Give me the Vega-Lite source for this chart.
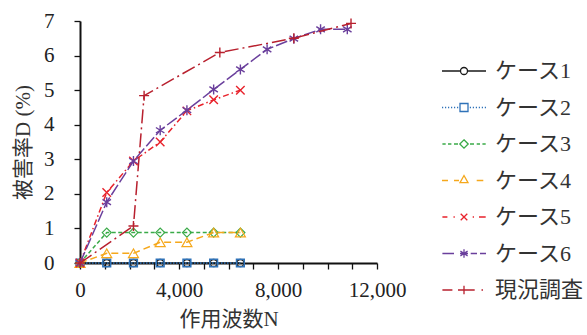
{
  "$schema": "https://vega.github.io/schema/vega-lite/v6.json",
  "autosize": {"type": "none"},
  "padding": {"left": 80, "top": 21, "right": 210, "bottom": 72},
  "width": 297,
  "height": 242,
  "background": "white",
  "data": {
    "values": [
      {"s": "ケース1", "x": 0, "y": 0}, {"s": "ケース1", "x": 1080, "y": 0}, {"s": "ケース1", "x": 2160, "y": 0}, {"s": "ケース1", "x": 3240, "y": 0}, {"s": "ケース1", "x": 4320, "y": 0}, {"s": "ケース1", "x": 5400, "y": 0}, {"s": "ケース1", "x": 6480, "y": 0},
      {"s": "ケース2", "x": 0, "y": 0}, {"s": "ケース2", "x": 1080, "y": 0}, {"s": "ケース2", "x": 2160, "y": 0}, {"s": "ケース2", "x": 3240, "y": 0}, {"s": "ケース2", "x": 4320, "y": 0}, {"s": "ケース2", "x": 5400, "y": 0}, {"s": "ケース2", "x": 6480, "y": 0},
      {"s": "ケース3", "x": 0, "y": 0}, {"s": "ケース3", "x": 1080, "y": 0.88}, {"s": "ケース3", "x": 2160, "y": 0.88}, {"s": "ケース3", "x": 3240, "y": 0.88}, {"s": "ケース3", "x": 4320, "y": 0.88}, {"s": "ケース3", "x": 5400, "y": 0.88}, {"s": "ケース3", "x": 6480, "y": 0.88},
      {"s": "ケース4", "x": 0, "y": 0}, {"s": "ケース4", "x": 1080, "y": 0.28}, {"s": "ケース4", "x": 2160, "y": 0.28}, {"s": "ケース4", "x": 3240, "y": 0.6}, {"s": "ケース4", "x": 4320, "y": 0.6}, {"s": "ケース4", "x": 5400, "y": 0.88}, {"s": "ケース4", "x": 6480, "y": 0.88},
      {"s": "ケース5", "x": 0, "y": 0}, {"s": "ケース5", "x": 1080, "y": 2.04}, {"s": "ケース5", "x": 2160, "y": 2.95}, {"s": "ケース5", "x": 3240, "y": 3.5}, {"s": "ケース5", "x": 4320, "y": 4.4}, {"s": "ケース5", "x": 5400, "y": 4.72}, {"s": "ケース5", "x": 6480, "y": 5.0},
      {"s": "ケース6", "x": 0, "y": 0}, {"s": "ケース6", "x": 1080, "y": 1.76}, {"s": "ケース6", "x": 2160, "y": 2.95}, {"s": "ケース6", "x": 3240, "y": 3.84}, {"s": "ケース6", "x": 4320, "y": 4.42}, {"s": "ケース6", "x": 5400, "y": 5.02}, {"s": "ケース6", "x": 6480, "y": 5.6}, {"s": "ケース6", "x": 7560, "y": 6.18}, {"s": "ケース6", "x": 8640, "y": 6.49}, {"s": "ケース6", "x": 9720, "y": 6.76}, {"s": "ケース6", "x": 10800, "y": 6.76},
      {"s": "現況調査", "x": 0, "y": 0}, {"s": "現況調査", "x": 2160, "y": 1.07}, {"s": "現況調査", "x": 2590, "y": 4.84}, {"s": "現況調査", "x": 5650, "y": 6.09}, {"s": "現況調査", "x": 8640, "y": 6.5}, {"s": "現況調査", "x": 10950, "y": 6.93}
    ]
  },
  "encoding": {
    "x": {
      "field": "x", "type": "quantitative",
      "scale": {"domain": [0, 12000], "nice": false, "zero": true},
      "axis": {
        "title": "作用波数N",
        "values": [0, 1000, 2000, 3000, 4000, 5000, 6000, 7000, 8000, 9000, 10000, 11000, 12000],
        "labelExpr": "datum.value % 4000 === 0 ? format(datum.value, ',') : ''",
        "labelFlush": false,
        "labelOverlap": false,
        "grid": false,
        "tickSize": 6,
        "labelPadding": 10,
        "titlePadding": 8,
        "encode": {"ticks": {"update": {"y2": {"value": -6}}}}
      }
    },
    "y": {
      "field": "y", "type": "quantitative",
      "scale": {"domain": [0, 7], "nice": false},
      "axis": {
        "title": "被害率D (%)",
        "values": [0, 1, 2, 3, 4, 5, 6, 7],
        "labelFlush": false,
        "grid": false,
        "tickSize": 6,
        "labelPadding": 20,
        "titlePadding": 10,
        "encode": {"ticks": {"update": {"x2": {"value": 6}}}}
      }
    }
  },
  "layer": [
    {
      "transform": [{"filter": "datum.s === 'ケース1'"}],
      "layer": [
        {"mark": {"type": "line", "strokeWidth": 1.5, "color": "#1a1a1a"}, "encoding": {}},
        {"mark": {"type": "point", "shape": "circle", "filled": false, "size": 49, "strokeWidth": 1.3, "color": "#1a1a1a", "opacity": 1}}
      ]
    },
    {
      "transform": [{"filter": "datum.s === 'ケース2'"}],
      "layer": [
        {"mark": {"type": "line", "strokeWidth": 1.5, "color": "#2f72b8", "strokeDash": [1.5, 1.5]}, "encoding": {}},
        {"mark": {"type": "point", "shape": "square", "filled": false, "size": 60, "strokeWidth": 1.5, "color": "#2f72b8", "opacity": 1}}
      ]
    },
    {
      "transform": [{"filter": "datum.s === 'ケース3'"}],
      "layer": [
        {"mark": {"type": "line", "strokeWidth": 1.5, "color": "#3aaa48", "strokeDash": [4, 2.5]}, "encoding": {}},
        {"mark": {"type": "point", "shape": "diamond", "filled": false, "size": 81, "strokeWidth": 1.2, "color": "#3aaa48", "opacity": 1}}
      ]
    },
    {
      "transform": [{"filter": "datum.s === 'ケース4'"}],
      "layer": [
        {"mark": {"type": "line", "strokeWidth": 1.5, "color": "#f5a81c", "strokeDash": [7, 4]}, "encoding": {}},
        {"mark": {"type": "point", "shape": "triangle-up", "filled": false, "size": 100, "strokeWidth": 1.2, "color": "#f5a81c", "opacity": 1}}
      ]
    },
    {
      "transform": [{"filter": "datum.s === 'ケース5'"}],
      "layer": [
        {"mark": {"type": "line", "strokeWidth": 1.5, "color": "#e8222b", "strokeDash": [6, 3, 1.5, 3]}, "encoding": {}},
        {"mark": {"type": "point", "shape": "M-1,-1L1,1M-1,1L1,-1", "filled": false, "size": 72, "strokeWidth": 1.4, "color": "#e8222b", "opacity": 1}}
      ]
    },
    {
      "transform": [{"filter": "datum.s === 'ケース6'"}],
      "layer": [
        {"mark": {"type": "line", "strokeWidth": 1.5, "color": "#6a3f9c", "strokeDash": [12, 3]}, "encoding": {}},
        {"mark": {"type": "point", "shape": "M0,-1V1M-0.85,-0.55L0.85,0.55M-0.85,0.55L0.85,-0.55", "filled": false, "size": 100, "strokeWidth": 1.4, "color": "#6a3f9c", "opacity": 1}}
      ]
    },
    {
      "transform": [{"filter": "datum.s === '現況調査'"}],
      "layer": [
        {"mark": {"type": "line", "strokeWidth": 1.5, "color": "#b8202e", "strokeDash": [14, 4, 2, 4]}, "encoding": {}},
        {"mark": {"type": "point", "shape": "M-1,0H1M0,-1V1", "filled": false, "size": 100, "strokeWidth": 1.4, "color": "#b8202e", "opacity": 1}}
      ]
    },
    {
      "mark": {"type": "point", "filled": false, "opacity": 0},
      "encoding": {
        "color": {
          "field": "s", "type": "nominal",
          "scale": {"domain": ["ケース1", "ケース2", "ケース3", "ケース4", "ケース5", "ケース6", "現況調査"],
                    "range": ["#1a1a1a", "#2f72b8", "#3aaa48", "#f5a81c", "#e8222b", "#6a3f9c", "#b8202e"]},
          "legend": {"title": null, "orient": "none", "legendX": 373, "legendY": 39}
        },
        "shape": {
          "field": "s", "type": "nominal",
          "scale": {
            "domain": ["ケース1", "ケース2", "ケース3", "ケース4", "ケース5", "ケース6", "現況調査"],
            "range": [
              "M-2.2,0H-0.35M0.35,0H2.2M0.35,0A0.35 0.35 0 1 1 -0.35,0A0.35 0.35 0 1 1 0.35,0",
              "M-2.2,0h0.12M-1.9,0h0.12M-1.6,0h0.12M-1.3,0h0.12M-1,0h0.12M-0.7,0h0.12M0.58,0h0.12M0.88,0h0.12M1.18,0h0.12M1.48,0h0.12M1.78,0h0.12M2.08,0h0.12M-0.4,-0.4H0.4V0.4H-0.4Z",
              "M-2.16,0H-1.83M-1.6,0H-1.26M-1,0H-0.6M0.6,0H1M1.27,0H1.6M1.84,0H2.17M0,-0.42L0.42,0L0,0.42L-0.42,0Z",
              "M-2.2,0H-1.6M-1,0H-0.5M1.27,0H1.93M0,-0.5L0.4,0.22L-0.4,0.22Z",
              "M-2.16,0H-1.66M-1.05,0H-0.92M-0.33,-0.33L0.33,0.33M-0.33,0.33L0.33,-0.33M0.87,0H1M1.5,0H2.17",
              "M-2.16,0H-1M0.67,0H1.3M1.6,0H2.2M-0.4,0H0.4M0,-0.42V0.42M-0.36,-0.24L0.36,0.24M-0.36,0.24L0.36,-0.24",
              "M-2.16,0H-1.16M-0.6,0H1.07M0,-0.42V0.42M1.75,0H1.9"
            ]
          },
          "legend": {"title": null, "orient": "none", "legendX": 373, "legendY": 39}
        }
      }
    }
  ],
  "config": {
    "view": {"stroke": null},
    "axis": {
      "labelFont": "Liberation Serif",
      "labelFontSize": 21,
      "labelColor": "#222222",
      "titleFont": "Liberation Serif, Noto Sans CJK JP",
      "titleFontSize": 21,
      "titleFontWeight": "normal",
      "titleColor": "#333333",
      "domainColor": "#111111",
      "domainWidth": 2,
      "tickColor": "#111111",
      "tickWidth": 1.3
    },
    "legend": {
      "labelFont": "Liberation Serif, Noto Sans CJK JP",
      "labelFontSize": 22,
      "labelColor": "#333333",
      "symbolSize": 400,
      "symbolStrokeWidth": 1.3,
      "symbolOpacity": 1,
      "labelOffset": 20,
      "rowPadding": 14.5,
      "padding": 0,
      "labelLimit": 200
    }
  }
}
